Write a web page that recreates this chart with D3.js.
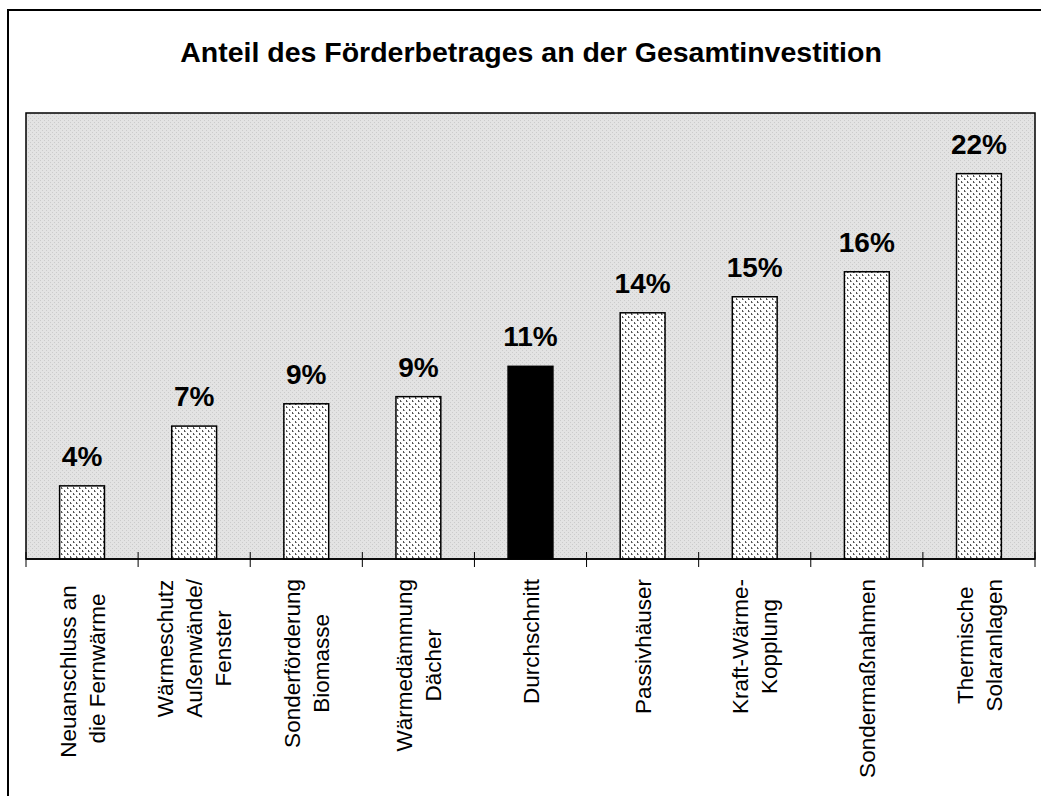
<!DOCTYPE html>
<html>
<head>
<meta charset="utf-8">
<script src="https://cdn.jsdelivr.net/npm/d3@7"></script>
<style>
  body { margin: 0; background: #fff; }
  text { font-family: "Liberation Sans", Arial, sans-serif; }
</style>
</head>
<body>
<svg id="chart" width="1041" height="796"></svg>
<script>
const title = "Anteil des Förderbetrages an der Gesamtinvestition";

const categories = [
  "Neuanschluss an \ndie Fernwärme",
  "Wärmeschutz\nAußenwände/\nFenster",
  "Sonderförderung\nBiomasse",
  "Wärmedämmung\nDächer",
  "Durchschnitt",
  "Passivhäuser",
  "Kraft-Wärme-\nKopplung",
  "Sondermaßnahmen",
  "Thermische\nSolaranlagen"
];

// share of subsidy in total investment, percent
const values = [4.1, 7.45, 8.7, 9.1, 10.8, 13.8, 14.7, 16.1, 21.6];

const highlight = "Durchschnitt";
const yDomain = [0, 25];

const svg = d3.select("#chart");

const plot = { left: 26, right: 1035, top: 113, bottom: 559 };

const defs = svg.append("defs");

// speckled gray plot background
const bg = defs.append("pattern")
  .attr("id", "bgDots")
  .attr("patternUnits", "userSpaceOnUse")
  .attr("width", 4).attr("height", 4);
bg.append("rect").attr("width", 4).attr("height", 4).attr("fill", "#e3e3e3");
bg.append("rect").attr("x", 0).attr("y", 0).attr("width", 1).attr("height", 1).attr("fill", "#cbcbcb");
bg.append("rect").attr("x", 2).attr("y", 2).attr("width", 1).attr("height", 1).attr("fill", "#cbcbcb");

// dotted white bar fill
const dots = defs.append("pattern")
  .attr("id", "barDots")
  .attr("patternUnits", "userSpaceOnUse")
  .attr("width", 6).attr("height", 6);
dots.append("rect").attr("width", 6).attr("height", 6).attr("fill", "#fff");
[[1, 1], [4, 4]].forEach(([x, y]) => {
  dots.append("rect").attr("x", x).attr("y", y).attr("width", 1).attr("height", 2).attr("fill", "#555");
  dots.append("rect").attr("x", x + 1).attr("y", y + 1).attr("width", 1).attr("height", 1).attr("fill", "#999");
});

// outer frame (runs past the window at right and bottom)
svg.append("rect")
  .attr("x", 8).attr("y", 10)
  .attr("width", 1060).attr("height", 820)
  .attr("fill", "#fff")
  .attr("stroke", "#000")
  .attr("stroke-width", 2);

svg.append("text")
  .attr("x", 531)
  .attr("y", 62)
  .attr("text-anchor", "middle")
  .attr("font-size", 28.5)
  .attr("font-weight", "bold")
  .text(title);

const x = d3.scaleBand()
  .domain(categories)
  .range([plot.left, plot.right])
  .paddingInner(0.6)
  .paddingOuter(0.3);

const y = d3.scaleLinear()
  .domain(yDomain)
  .range([plot.bottom, plot.top]);

svg.append("rect")
  .attr("x", plot.left).attr("y", plot.top)
  .attr("width", plot.right - plot.left)
  .attr("height", plot.bottom - plot.top)
  .attr("fill", "url(#bgDots)")
  .attr("stroke", "#000")
  .attr("stroke-width", 1.5);

const data = categories.map((c, i) => ({ cat: c, value: values[i] }));

svg.append("g")
  .selectAll("rect")
  .data(data)
  .join("rect")
  .attr("x", d => x(d.cat))
  .attr("y", d => y(d.value))
  .attr("width", x.bandwidth())
  .attr("height", d => y(0) - y(d.value))
  .attr("fill", d => d.cat === highlight ? "#000" : "url(#barDots)")
  .attr("stroke", "#000")
  .attr("stroke-width", 1.5);

svg.append("g")
  .selectAll("text")
  .data(data)
  .join("text")
  .attr("x", d => x(d.cat) + x.bandwidth() / 2)
  .attr("y", d => y(d.value) - 20)
  .attr("text-anchor", "middle")
  .attr("font-size", 28)
  .attr("font-weight", "bold")
  .text(d => d3.format(".0f")(d.value) + "%");

// category axis with ticks at the band boundaries
const gap = (x.step() - x.bandwidth()) / 2;
const bounds = categories.map(c => x(c) - gap).concat([plot.right]);

const axis = svg.append("g");
axis.append("line")
  .attr("x1", plot.left).attr("x2", plot.right)
  .attr("y1", plot.bottom).attr("y2", plot.bottom)
  .attr("stroke", "#000")
  .attr("stroke-width", 1.5);
axis.selectAll("line.tick")
  .data(bounds)
  .join("line")
  .attr("class", "tick")
  .attr("x1", d => d).attr("x2", d => d)
  .attr("y1", plot.bottom - 7).attr("y2", plot.bottom + 8)
  .attr("stroke", "#000")
  .attr("stroke-width", 1);

const labelTop = 579;
const lineGap = 29;
const fs = 22.5;

const labels = axis.selectAll("g.label")
  .data(categories)
  .join("g")
  .attr("class", "label");

labels.each(function (c) {
  const g = d3.select(this);
  const lines = c.split("\n");
  const t = g.append("text")
    .attr("font-size", fs)
    .attr("text-anchor", "middle")
    .style("white-space", "pre");
  lines.forEach((ln, i) => {
    t.append("tspan")
      .attr("x", 0)
      .attr("y", (i - (lines.length - 1) / 2) * lineGap + fs * 0.36)
      .text(ln);
  });
  const maxLen = d3.max(t.selectAll("tspan").nodes(), n => n.getComputedTextLength());
  const cx = x(c) + x.bandwidth() / 2;
  g.attr("transform", `translate(${cx},${labelTop + maxLen / 2}) rotate(-90)`);
});
</script>
</body>
</html>
